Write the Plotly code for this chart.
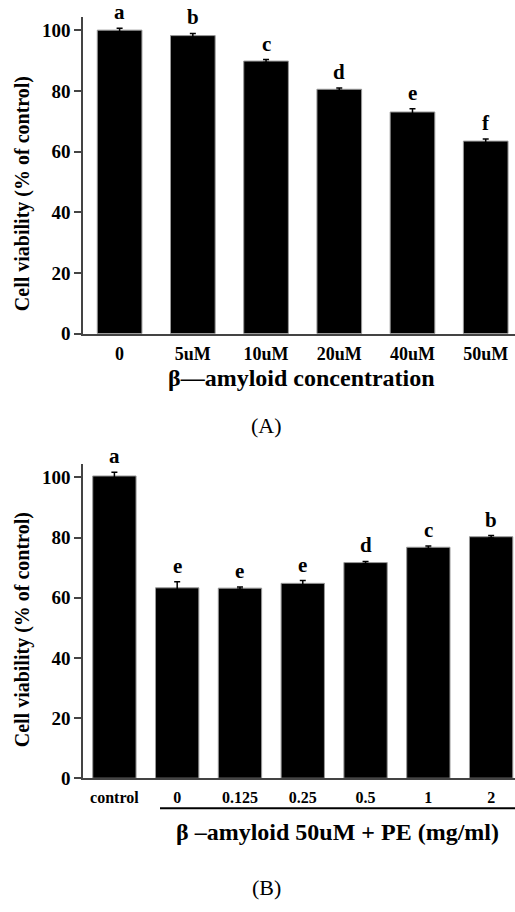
import plotly.graph_objects as go

# ---- data ----
cats_a = ["0", "5uM", "10uM", "20uM", "40uM", "50uM"]
vals_a = [100.1, 98.3, 89.9, 80.6, 73.1, 63.5]
err_a = [0.6, 0.7, 0.5, 0.4, 1.1, 0.7]
letters_a = ["a", "b", "c", "d", "e", "f"]

cats_b = ["control", "0", "0.125", "0.25", "0.5", "1", "2"]
vals_b = [100.5, 63.3, 63.2, 64.8, 71.7, 76.8, 80.3]
err_b = [1.2, 2.0, 0.4, 0.9, 0.4, 0.4, 0.4]
letters_b = ["a", "e", "e", "e", "d", "c", "b"]

y_ticks = [0, 20, 40, 60, 80, 100]

W, H = 515, 912
SERIF = "'Liberation Serif', 'DejaVu Serif', serif"


def py(px):
    return (H - px) / H


fig = go.Figure()

fig.add_trace(go.Bar(
    x=list(range(len(cats_a))), y=vals_a, xaxis="x", yaxis="y",
    marker=dict(color="black", line=dict(color="#999999", width=1)),
    error_y=dict(type="data", array=err_a, color="black", thickness=1.5, width=3),
    width=0.61, showlegend=False,
))
fig.add_trace(go.Bar(
    x=list(range(len(cats_b))), y=vals_b, xaxis="x2", yaxis="y2",
    marker=dict(color="black", line=dict(color="#999999", width=1)),
    error_y=dict(type="data", array=err_b, color="black", thickness=1.5, width=3),
    width=0.69, showlegend=False,
))

axis_common = dict(showline=True, linecolor="#444444", linewidth=1.5, showgrid=False,
                   zeroline=False)

fig.update_layout(
    width=W, height=H, margin=dict(l=0, r=0, t=0, b=0),
    plot_bgcolor="white", paper_bgcolor="white",
    font=dict(family=SERIF, color="black"),
    xaxis=dict(domain=[83 / W, 1.0], range=[-0.5, 5.4], anchor="y",
               tickmode="array", tickvals=list(range(len(cats_a))),
               ticktext=["<b>%s</b>" % c for c in cats_a],
               ticks="", ticklabelstandoff=3,
               tickfont=dict(family=SERIF, size=18, color="black"),
               **axis_common),
    yaxis=dict(domain=[py(337.7), py(17)], range=[0, 104.5], anchor="x",
               tickmode="array", tickvals=y_ticks,
               ticktext=["<b>%d</b>" % t for t in y_ticks],
               ticks="outside", ticklen=7,
               tickwidth=1.5, tickcolor="#444444",
               tickfont=dict(family=SERIF, size=19, color="black"),
               **axis_common),
    xaxis2=dict(domain=[83 / W, 1.0], range=[-0.5, 6.38], anchor="y2",
                tickmode="array", tickvals=list(range(len(cats_b))),
                ticktext=["<b>%s</b>" % c for c in cats_b],
                ticks="", ticklabelstandoff=4,
                tickfont=dict(family=SERIF, size=16, color="black"),
                **axis_common),
    yaxis2=dict(domain=[py(787.7), py(469.3)], range=[0, 104.6], anchor="x2",
                tickmode="array", tickvals=y_ticks,
                ticktext=["<b>%d</b>" % t for t in y_ticks],
                ticks="outside", ticklen=7,
                tickwidth=1.5, tickcolor="#444444",
                tickfont=dict(family=SERIF, size=19, color="black"),
                **axis_common),
    bargap=0.39,
)

ann = []
for i, (v, e, l) in enumerate(zip(vals_a, err_a, letters_a)):
    ann.append(dict(x=i, y=v + e, xref="x", yref="y", text="<b>%s</b>" % l,
                    showarrow=False, xanchor="center", yanchor="bottom", yshift=2,
                    font=dict(family=SERIF, size=21, color="black")))
for i, (v, e, l) in enumerate(zip(vals_b, err_b, letters_b)):
    ann.append(dict(x=i, y=v + e, xref="x2", yref="y2", text="<b>%s</b>" % l,
                    showarrow=False, xanchor="center", yanchor="bottom", yshift=2,
                    font=dict(family=SERIF, size=21, color="black")))


def label(xp, yp, text, size, angle=0):
    return dict(x=xp / W, y=py(yp), xref="paper", yref="paper", text=text,
                textangle=angle, showarrow=False, xanchor="center", yanchor="middle",
                font=dict(family=SERIF, size=size, color="black"))


ann.append(label(22, 196.5, "<b>Cell viability (% of control)</b>", 20, -90))
ann.append(label(22, 638, "<b>Cell viability (% of control)</b>", 20, -90))
ann.append(label(301, 383, "<b>β—amyloid concentration</b>", 24))
ann.append(label(337, 842, "<b>β –amyloid 50uM + PE (mg/ml)</b>", 24))
ann.append(label(266, 431, "(A)", 22))
ann.append(label(266, 898, "(B)", 22))

fig.update_layout(annotations=ann)

# underline beneath treatment group labels
fig.add_shape(type="line", xref="paper", yref="paper",
              x0=160 / W, x1=1.0, y0=py(818), y1=py(818),
              line=dict(color="black", width=2))

fig.write_html("out.html")
